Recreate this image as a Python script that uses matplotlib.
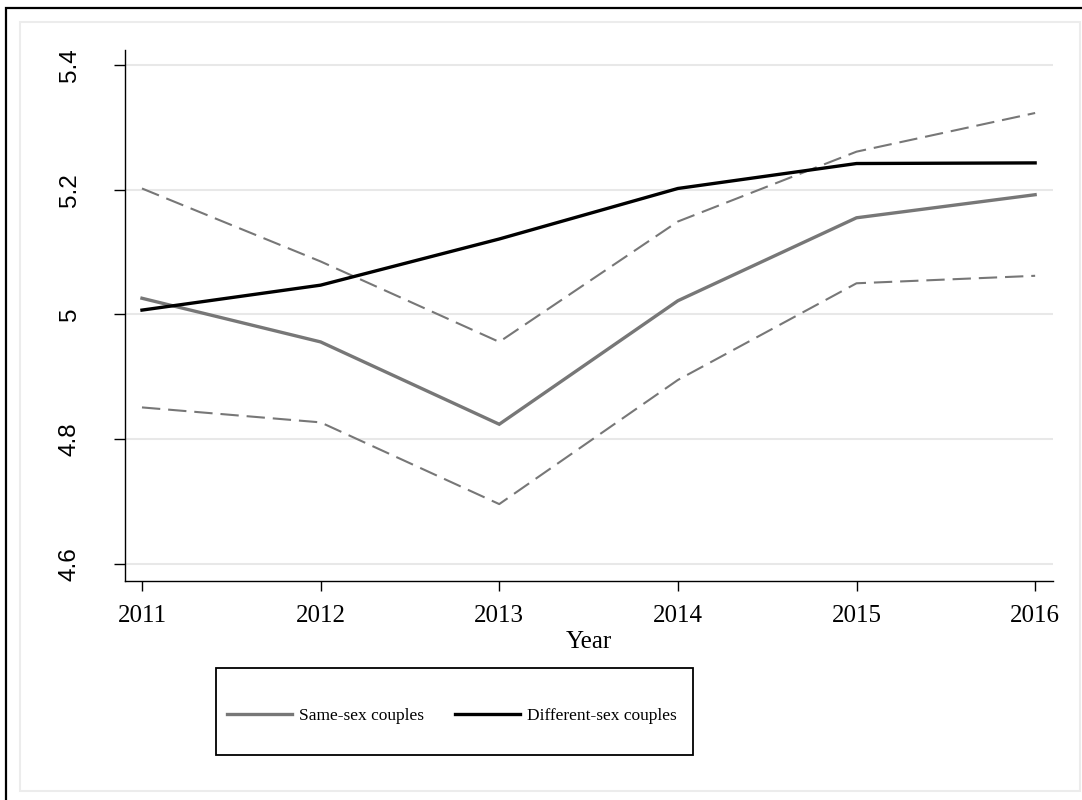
import matplotlib
matplotlib.use("Agg")
import matplotlib.pyplot as plt
from matplotlib.patches import Rectangle
from matplotlib.lines import Line2D

# Mean outcome by year with 95% confidence bounds for same-sex couples
years = [2011, 2012, 2013, 2014, 2015, 2016]
same_sex = [5.026, 4.956, 4.824, 5.022, 5.155, 5.192]
same_sex_upper = [5.202, 5.085, 4.956, 5.149, 5.261, 5.323]
same_sex_lower = [4.851, 4.827, 4.696, 4.895, 5.050, 5.062]
different_sex = [5.007, 5.047, 5.121, 5.202, 5.242, 5.243]
y_ticks = [4.6, 4.8, 5.0, 5.2, 5.4]
y_tick_labels = ["4.6", "4.8", "5", "5.2", "5.4"]

W, H = 1082, 800
fig = plt.figure(figsize=(W / 100, H / 100), dpi=100)
fig.patch.set_facecolor("white")

# Outer border (left/top) and light inner frame
fig.add_artist(Rectangle((6 / W, -0.01), 1.2, 1 - 8 / H + 0.01, transform=fig.transFigure,
                         fill=False, edgecolor="black", lw=1.6, zorder=0))
fig.add_artist(Rectangle((20 / W, 1 - 791 / H), (1080 - 20) / W, (791 - 22) / H,
                         transform=fig.transFigure, fill=False, edgecolor="#ececec",
                         lw=1.5, zorder=0))

left, right, top, bottom = 125, 1053, 50, 581
ax = fig.add_axes([left / W, 1 - bottom / H, (right - left) / W, (bottom - top) / H])
ax.set_facecolor("white")

gray = "#777777"
dash = (0, (8.8, 3.8))
ax.plot(years, same_sex_upper, color=gray, lw=1.5, linestyle=dash, zorder=3)
ax.plot(years, same_sex_lower, color=gray, lw=1.5, linestyle=dash, zorder=3)
ax.plot(years, same_sex, color=gray, lw=2.4, solid_joinstyle="miter", zorder=4)
ax.plot(years, different_sex, color="black", lw=2.4, solid_joinstyle="miter", zorder=5)

ax.set_xlim(2010.905, 2016.10)
ax.set_ylim(4.5727, 5.424)
ax.set_xticks(years)
ax.set_xticklabels([str(y) for y in years], fontfamily="Liberation Serif", fontsize=18)
ax.set_yticks(y_ticks)
ax.set_yticklabels(y_tick_labels, fontfamily="Liberation Sans", fontsize=17.5,
                   rotation=90, va="center")
ax.grid(axis="y", color="#e8e8e8", lw=1.5, zorder=0)
ax.set_axisbelow(True)

for s in ("top", "right"):
    ax.spines[s].set_visible(False)
for s in ("left", "bottom"):
    ax.spines[s].set_linewidth(1.0)
    ax.spines[s].set_color("black")
ax.tick_params(axis="y", length=8, width=1.0, pad=24)
ax.tick_params(axis="x", length=7.5, width=1.0, pad=9.5)

ax.set_xlabel("Year", fontfamily="Liberation Serif", fontsize=18)
ax.xaxis.set_label_coords(0.5, (bottom - 642) / (bottom - top))
ax.xaxis.label.set_va("center")

# Legend box with two entries
lx0, lx1, ly0, ly1 = 216, 693, 668, 755
fig.add_artist(Rectangle((lx0 / W, 1 - ly1 / H), (lx1 - lx0) / W, (ly1 - ly0) / H,
                         transform=fig.transFigure, fill=False, edgecolor="black",
                         lw=1.3, zorder=2))
handles = [Line2D([], [], color=gray, lw=2.4), Line2D([], [], color="black", lw=2.4)]
fig.legend(handles, ["Same-sex couples", "Different-sex couples"], ncol=2,
           loc="center", bbox_to_anchor=(452 / W, 1 - 716 / H),
           frameon=False, prop={"family": "Liberation Serif", "size": 12.5},
           handlelength=3.74, handletextpad=0.4, columnspacing=1.78)

fig.savefig("out.png", dpi=100, facecolor="white")
